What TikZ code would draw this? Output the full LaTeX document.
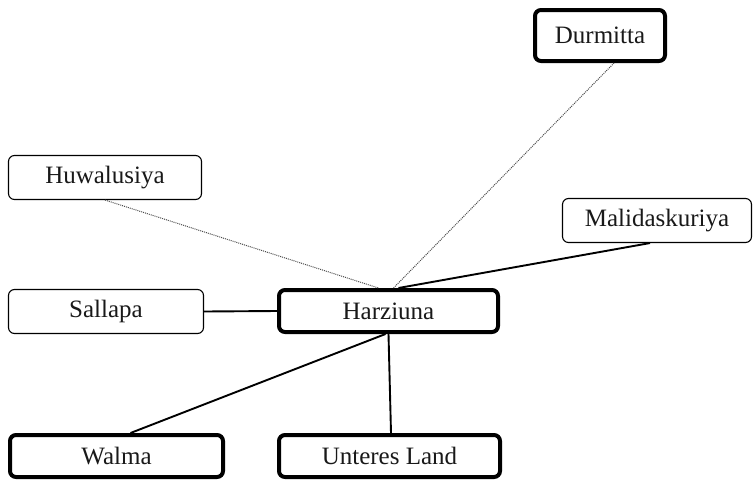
\documentclass[tikz,border=0pt]{standalone}
\usepackage{fontspec}
\setmainfont{Liberation Serif}
\begin{document}
\begin{tikzpicture}[x=1pt,y=-1pt,
  place/.style={draw=black, rounded corners=6pt, fill=white, inner sep=0pt,
    font=\fontsize{25}{29}\selectfont, text=black!90},
  minor/.style={place, line width=1.1pt},
  major/.style={place, line width=4pt},
  link/.style={line width=1.9pt, black},
  faint/.style={line width=1pt, black!70, densely dotted}]
\useasboundingbox (0,0) rectangle (754,482);
% places
\node[major, minimum width=130pt, minimum height=51pt] (dm) at (600,35.5) {Durmitta};
\node[minor, minimum width=193pt, minimum height=44pt] (hw) at (105,177.5) {Huwalusiya};
\node[minor, minimum width=189pt, minimum height=44pt] (ml) at (657,220.5) {Malidaskuriya};
\node[minor, minimum width=195pt, minimum height=44pt] (sp) at (106,311.5) {Sallapa};
\node[major, minimum width=219pt, minimum height=42pt] (hz) at (388.5,311) {Harziuna};
\node[major, minimum width=213pt, minimum height=42pt] (wl) at (116.5,456) {Walma};
\node[major, minimum width=221pt, minimum height=42pt] (ul) at (389.5,456) {Unteres Land};
% connections
\draw[faint] (hw.south) -- ([xshift=-10pt]hz.north);
\draw[faint] ([xshift=14pt]dm.south) -- ([xshift=5pt]hz.north);
\draw[link] ([xshift=-7pt]ml.south) -- ([xshift=10pt]hz.north);
\draw[link] (sp.east) -- (hz.west);
\draw[link] ([xshift=-3pt]hz.south) -- ([xshift=14pt]wl.north);
\draw[link] (hz.south) -- ([xshift=1.5pt]ul.north);
\end{tikzpicture}
\end{document}
